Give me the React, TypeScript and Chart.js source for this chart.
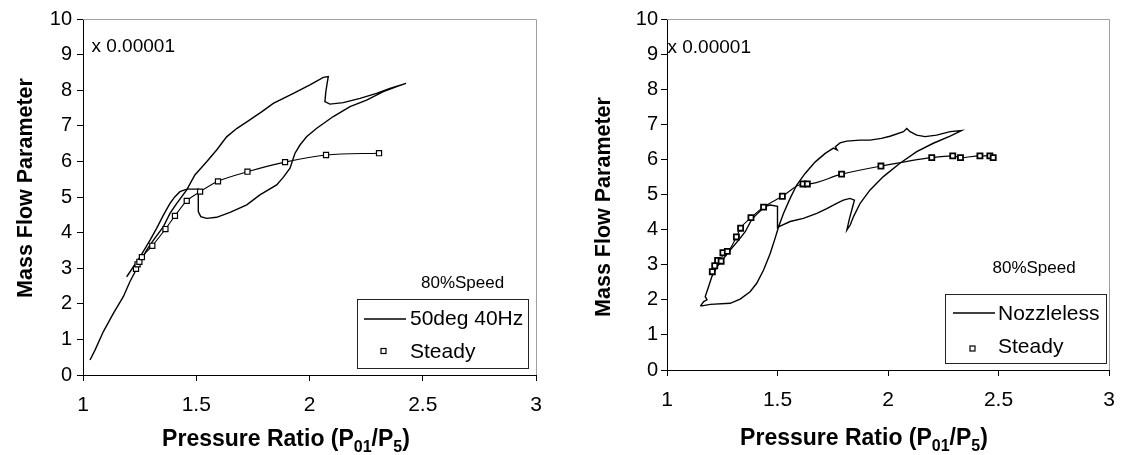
import React, { useEffect, useRef } from "react";
import { Chart, registerables } from "chart.js";

Chart.register(...registerables);

const FONT = "'Liberation Sans', Arial, Helvetica, sans-serif";

// ---------- data ----------
const X_TICKS = [1, 1.5, 2, 2.5, 3];
const Y_TICKS = [0, 1, 2, 3, 4, 5, 6, 7, 8, 9, 10];

const Y_TITLE = "Mass Flow Parameter";
const X_TITLE_PARTS: [string, boolean][] = [
  ["Pressure Ratio (P", false],
  ["01", true],
  ["/P", false],
  ["5", true],
  [")", false],
];
const SCALE_NOTE = "x 0.00001";
const SPEED_NOTE = "80%Speed";

const LEFT_NAMES = ["50deg 40Hz", "Steady"];
const RIGHT_NAMES = ["Nozzleless", "Steady"];

const LEFT_UNSTEADY: [number, number][] = [
  [1.031, 0.42], [1.053, 0.7], [1.09, 1.22], [1.134, 1.73], [1.178, 2.2],
  [1.207, 2.62], [1.23, 2.9], [1.255, 3.2], [1.281, 3.51], [1.311, 3.79],
  [1.355, 4.17], [1.384, 4.54], [1.414, 4.82], [1.458, 5.2], [1.494, 5.62],
  [1.546, 5.99], [1.59, 6.32], [1.634, 6.69], [1.68, 6.93], [1.73, 7.14],
  [1.79, 7.4], [1.84, 7.63], [1.929, 7.91], [2.002, 8.15], [2.061, 8.36],
  [2.083, 8.38], [2.078, 8.2], [2.072, 7.95], [2.068, 7.68], [2.09, 7.61],
  [2.149, 7.65], [2.223, 7.77], [2.296, 7.91], [2.355, 8.05], [2.426, 8.19],
  [2.385, 8.1], [2.326, 7.96], [2.252, 7.72], [2.179, 7.54], [2.105, 7.26],
  [2.032, 6.93], [1.987, 6.69], [1.958, 6.46], [1.936, 6.23], [1.926, 6.04],
  [1.914, 5.81], [1.884, 5.55], [1.855, 5.34], [1.781, 5.06], [1.723, 4.78],
  [1.649, 4.57], [1.59, 4.43], [1.546, 4.4], [1.52, 4.45], [1.509, 4.59],
  [1.509, 5.22], [1.458, 5.22], [1.428, 5.15], [1.406, 5.01], [1.384, 4.82],
  [1.355, 4.49], [1.325, 4.12], [1.296, 3.79], [1.252, 3.32], [1.222, 3.04],
  [1.193, 2.76],
];

const LEFT_STEADY: [number, number][] = [
  [1.234, 2.98], [1.241, 3.11], [1.249, 3.18], [1.26, 3.31], [1.306, 3.63],
  [1.364, 4.1], [1.406, 4.47], [1.458, 4.89], [1.517, 5.15], [1.596, 5.44],
  [1.726, 5.71], [1.892, 5.98], [2.073, 6.18], [2.307, 6.23],
];

const RIGHT_UNSTEADY: [number, number][] = [
  [1.151, 1.82], [1.196, 1.87], [1.286, 1.9], [1.331, 2.02], [1.376, 2.23],
  [1.406, 2.47], [1.437, 2.85], [1.467, 3.32], [1.489, 3.75], [1.505, 4.08],
  [1.527, 4.46], [1.557, 4.89], [1.587, 5.27], [1.625, 5.6], [1.671, 5.93],
  [1.716, 6.17], [1.753, 6.32], [1.77, 6.27], [1.762, 6.36], [1.783, 6.47],
  [1.813, 6.52], [1.873, 6.55], [1.919, 6.55], [1.97, 6.6], [2.009, 6.66],
  [2.07, 6.79], [2.085, 6.88], [2.1, 6.79], [2.13, 6.69], [2.168, 6.65],
  [2.22, 6.69], [2.281, 6.79], [2.333, 6.82], [2.281, 6.66], [2.205, 6.46],
  [2.13, 6.22], [2.054, 5.89], [1.979, 5.51], [1.919, 5.13], [1.874, 4.75],
  [1.844, 4.37], [1.829, 4.13], [1.814, 3.99], [1.825, 4.3], [1.838, 4.6],
  [1.848, 4.84], [1.828, 4.89], [1.798, 4.84], [1.768, 4.75], [1.723, 4.6],
  [1.678, 4.46], [1.617, 4.32], [1.557, 4.23], [1.512, 4.1], [1.5, 4.06],
  [1.5, 4.36], [1.5, 4.66], [1.467, 4.7], [1.444, 4.66], [1.414, 4.49],
  [1.384, 4.3], [1.354, 3.94], [1.324, 3.7], [1.286, 3.42], [1.256, 3.18],
  [1.226, 2.94], [1.203, 2.66], [1.188, 2.37], [1.173, 2.09], [1.181, 2.0],
  [1.166, 1.95], [1.151, 1.82],
];

const RIGHT_STEADY: [number, number][] = [
  [1.205, 2.8], [1.216, 2.97], [1.229, 3.12], [1.245, 3.1], [1.253, 3.34],
  [1.273, 3.38], [1.314, 3.79], [1.333, 4.04], [1.38, 4.34], [1.437, 4.64],
  [1.522, 4.95], [1.615, 5.3], [1.635, 5.3], [1.79, 5.58], [1.968, 5.81],
  [2.198, 6.05], [2.293, 6.1], [2.328, 6.05], [2.416, 6.1], [2.461, 6.1],
  [2.476, 6.05],
];

// ---------- layout of the two panels ----------
type Panel = {
  left: number;
  names: string[];
  unsteady: [number, number][];
  steady: [number, number][];
  markerBorder: number;
  yAxisWidth: number;
  padRight: number;
  xAxisHeight: number;
  yTickPad: number;
  yTitle: [number, number];
  xTitle: [number, number];
  note: [number, number];
  speed: [number, number];
  box: [number, number, number, number];
  lineSample: [number, number, number];
  textX: number;
  base1: number;
  marker: [number, number];
  base2: number;
};

const LEFT_PANEL: Panel = {
  left: 0,
  names: LEFT_NAMES,
  unsteady: LEFT_UNSTEADY,
  steady: LEFT_STEADY,
  markerBorder: 1.2,
  yAxisWidth: 83,
  padRight: 28,
  xAxisHeight: 80,
  yTickPad: 5,
  yTitle: [31.5, 188],
  xTitle: [286, 446],
  note: [91.5, 52],
  speed: [421, 288],
  box: [357, 299, 528, 368],
  lineSample: [364, 406, 319],
  textX: 410,
  base1: 325,
  marker: [383.5, 351],
  base2: 358,
};

const RIGHT_PANEL: Panel = {
  left: 564,
  names: RIGHT_NAMES,
  unsteady: RIGHT_UNSTEADY,
  steady: RIGHT_STEADY,
  markerBorder: 1.8,
  yAxisWidth: 103,
  padRight: 19,
  xAxisHeight: 85,
  yTickPad: 3,
  yTitle: [46, 207],
  xTitle: [300, 445],
  note: [103.5, 52.5],
  speed: [428.5, 273],
  box: [381, 294, 542, 363],
  lineSample: [389, 431, 313],
  textX: 434,
  base1: 320,
  marker: [408.5, 348.5],
  base2: 353,
};

function toPts(a: [number, number][]) {
  return a.map(([x, y]) => ({ x, y }));
}

function makeDecor(p: Panel) {
  return {
    id: "decor",
    afterDraw(chart: any) {
      const ctx: CanvasRenderingContext2D = chart.ctx;
      const a = chart.chartArea;
      ctx.save();
      // light grey frame on top and right
      ctx.strokeStyle = "#a0a0a0";
      ctx.lineWidth = 1;
      ctx.beginPath();
      const t = Math.round(a.top) + 0.5;
      const r = Math.round(a.right) + 0.5;
      ctx.moveTo(a.left, t);
      ctx.lineTo(r, t);
      ctx.lineTo(r, a.bottom);
      ctx.stroke();

      ctx.fillStyle = "#000";
      // notes
      ctx.textAlign = "left";
      ctx.textBaseline = "alphabetic";
      ctx.font = `19px ${FONT}`;
      ctx.fillText(SCALE_NOTE, p.note[0], p.note[1]);
      ctx.font = `17px ${FONT}`;
      ctx.fillText(SPEED_NOTE, p.speed[0], p.speed[1]);

      // legend
      const [bx1, by1, bx2, by2] = p.box;
      ctx.strokeStyle = "#222";
      ctx.lineWidth = 1;
      ctx.strokeRect(bx1 + 0.5, by1 + 0.5, bx2 - bx1, by2 - by1);
      ctx.strokeStyle = "#000";
      ctx.lineWidth = 1.4;
      ctx.beginPath();
      ctx.moveTo(p.lineSample[0], p.lineSample[2]);
      ctx.lineTo(p.lineSample[1], p.lineSample[2]);
      ctx.stroke();
      ctx.lineWidth = 1.2;
      ctx.fillStyle = "#fff";
      ctx.fillRect(p.marker[0] - 2.5, p.marker[1] - 2.5, 5, 5);
      ctx.strokeRect(p.marker[0] - 2.5, p.marker[1] - 2.5, 5, 5);
      ctx.fillStyle = "#000";
      ctx.font = `21px ${FONT}`;
      ctx.fillText(p.names[0], p.textX, p.base1);
      ctx.fillText(p.names[1], p.textX, p.base2);

      // x title with subscripts
      const mainFont = `bold 23px ${FONT}`;
      const subFont = `bold 16px ${FONT}`;
      let total = 0;
      for (const [s, sub] of X_TITLE_PARTS) {
        ctx.font = sub ? subFont : mainFont;
        total += ctx.measureText(s).width;
      }
      let x = p.xTitle[0] - total / 2;
      for (const [s, sub] of X_TITLE_PARTS) {
        ctx.font = sub ? subFont : mainFont;
        ctx.fillText(s, x, p.xTitle[1] + (sub ? 6 : 0));
        x += ctx.measureText(s).width;
      }

      // y title
      ctx.font = `bold 21.5px ${FONT}`;
      ctx.textAlign = "center";
      ctx.translate(p.yTitle[0], p.yTitle[1]);
      ctx.rotate(-Math.PI / 2);
      ctx.fillText(Y_TITLE, 0, 0);
      ctx.restore();
    },
  };
}

function PanelChart({ p }: { p: Panel }) {
  const ref = useRef<HTMLCanvasElement>(null);
  useEffect(() => {
    const chart = new Chart(ref.current as HTMLCanvasElement, {
      type: "scatter",
      data: {
        datasets: [
          {
            label: p.names[1],
            data: toPts(p.steady),
            showLine: true,
            borderColor: "#000",
            borderWidth: 1.1,
            cubicInterpolationMode: "monotone",
            pointStyle: "rect",
            pointRadius: 3.6,
            pointBackgroundColor: "#fff",
            pointBorderColor: "#000",
            pointBorderWidth: p.markerBorder,
            order: 0,
          } as any,
          {
            label: p.names[0],
            data: toPts(p.unsteady),
            showLine: true,
            borderColor: "#000",
            borderWidth: 1.4,
            pointRadius: 0,
            tension: 0,
            order: 1,
          } as any,
        ],
      },
      options: {
        responsive: false,
        devicePixelRatio: 1,
        animation: false,
        layout: { padding: { left: 0, right: p.padRight, top: 19, bottom: 0 } },
        plugins: {
          legend: { display: false },
          tooltip: { enabled: false },
        },
        scales: {
          x: {
            type: "linear",
            min: 1,
            max: 3,
            afterBuildTicks: (s: any) => {
              s.ticks = X_TICKS.map((v) => ({ value: v }));
            },
            afterFit: (s: any) => {
              s.height = p.xAxisHeight;
            },
            ticks: {
              color: "#000",
              font: { family: FONT, size: 21 },
              padding: 12,
              maxRotation: 0,
              callback: (v: any) => String(v),
            },
            grid: {
              drawOnChartArea: false,
              drawTicks: true,
              tickLength: 6,
              color: "#000",
              tickColor: "#000",
            },
            border: { display: true, color: "#000", width: 1 },
          },
          y: {
            type: "linear",
            min: 0,
            max: 10,
            afterBuildTicks: (s: any) => {
              s.ticks = Y_TICKS.map((v) => ({ value: v }));
            },
            afterFit: (s: any) => {
              s.width = p.yAxisWidth;
            },
            ticks: {
              color: "#000",
              font: { family: FONT, size: 20 },
              padding: p.yTickPad,
              callback: (v: any) => String(v),
            },
            grid: {
              drawOnChartArea: false,
              drawTicks: true,
              tickLength: 6,
              color: "#000",
              tickColor: "#000",
            },
            border: { display: true, color: "#000", width: 1 },
          },
        },
      },
      plugins: [makeDecor(p)],
    } as any);
    return () => chart.destroy();
  }, [p]);
  return (
    <canvas
      ref={ref}
      width={564}
      height={455}
      style={{ position: "absolute", left: p.left, top: 0, width: 564, height: 455, display: "block" }}
    />
  );
}

export default function App() {
  return (
    <div
      style={{
        position: "absolute",
        left: 0,
        top: 0,
        width: 1128,
        height: 455,
        background: "#fff",
        overflow: "hidden",
      }}
    >
      <PanelChart p={LEFT_PANEL} />
      <PanelChart p={RIGHT_PANEL} />
    </div>
  );
}
